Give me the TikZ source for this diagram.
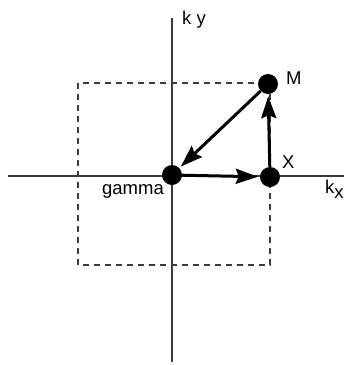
\documentclass[tikz,border=0pt]{standalone}
\usepackage{fontspec}
\setmainfont{Liberation Sans}
\usetikzlibrary{arrows.meta}
\definecolor{ejegris}{RGB}{60, 60, 60}
\tikzset{
  eje/.style={line width=1.6pt,ejegris},
  punto/.style={circle,fill=black,inner sep=0pt,minimum size=20pt},
  paso/.style={-{Stealth[length=22pt,width=15pt,inset=3pt]},line width=3pt,shorten >=2pt},
  zona/.style={dashed,dash pattern=on 6pt off 5pt,line width=1.3pt,ejegris},
  etiq/.style={font=\fontsize{18.5}{18.5}\selectfont,inner sep=0pt},
}

\begin{document}
\begin{tikzpicture}[x=1pt,y=-1pt]
    \useasboundingbox (0,0) rectangle (344,365);
    % ejes
    \coordinate (xi) at (8,176);
    \coordinate (xf) at (344,176);
    \coordinate (yi) at (172,18);
    \coordinate (yf) at (172,362);
    \draw[eje] (xi) -- (xf);
    \draw[eje] (yi) -- (yf);
    \draw[zona] (78,83) rectangle (270,265);
    % puntos
    \node[punto] (G) at (172,175) {};
    \node[punto] (X) at (270,177) {};
    \node[punto] (M) at (268,84) {};
    \node[etiq,anchor=base east] (lg) at (164,194) {gamma};
    \node[etiq,anchor=base west] (lx) at (282,168) {X};
    \node[etiq,anchor=base west] (lm) at (286,84) {M};
    \node[etiq,anchor=base west] (ky) at (182,24) {k y};
    \node[etiq,anchor=base west] (kx) at (325,193) {k\raisebox{-5pt}{x}};
    \foreach \i/\j in {G/X,X/M,M/G} \draw[paso] (\i) -- (\j);
  \end{tikzpicture}
\end{document}
